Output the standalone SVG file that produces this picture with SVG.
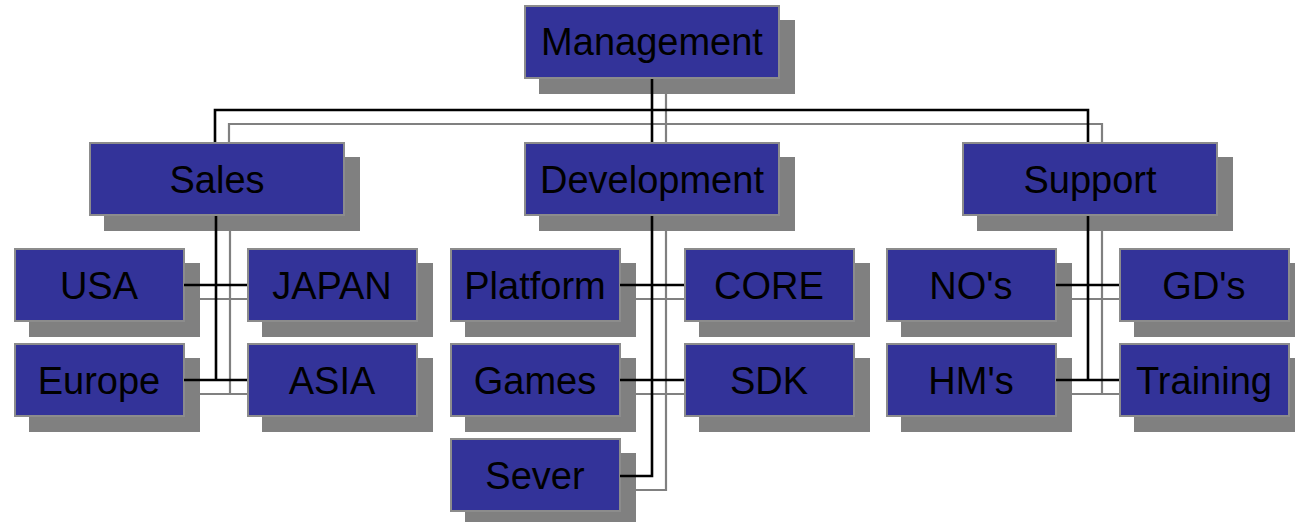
<svg xmlns="http://www.w3.org/2000/svg" width="1295" height="522" viewBox="0 0 1295 522">
  <style>
    .box { fill: #333399; stroke: #8c8c8c; stroke-width: 2; }
    .shadow { fill: #808080; }
    .label { font-family: "Liberation Sans", Arial, sans-serif; font-size: 38px; fill: #000; text-anchor: middle; }
    .link { fill: none; stroke: #000; stroke-width: 2.6; }
    .link-shadow { fill: none; stroke: #808080; stroke-width: 2.2; }
  </style>
  <defs>
    <!-- connector routes, reused for the drop shadow -->
    <g id="routes">
      <path d="M652,79 V142 M215,142 V110 H1088 V142"/>
      <path d="M216,216 V380 M184,285 H247 M184,380 H247"/>
      <path d="M652,216 V476 H620 M620,285 H684 M620,380 H684"/>
      <path d="M1088,216 V380 M1056,285 H1119 M1056,380 H1119"/>
    </g>
  </defs>

  <!-- connector shadows sit beneath every box -->
  <g id="connector-shadows" class="link-shadow">
    <use href="#routes" transform="translate(14,14)"/>
  </g>

  <g id="management">
    <rect class="shadow" x="539" y="20" width="256" height="74"/>
    <rect class="box" x="525" y="6" width="254" height="72"/>
    <text class="label" x="652" y="55">Management</text>
  </g>

  <g id="sales">
    <rect class="shadow" x="104" y="157" width="256" height="74"/>
    <rect class="box" x="90" y="143" width="254" height="72"/>
    <text class="label" x="217" y="192.5">Sales</text>
  </g>
  <g id="development">
    <rect class="shadow" x="539" y="157" width="256" height="74"/>
    <rect class="box" x="525" y="143" width="254" height="72"/>
    <text class="label" x="652" y="192.5">Development</text>
  </g>
  <g id="support">
    <rect class="shadow" x="977" y="157" width="256" height="74"/>
    <rect class="box" x="963" y="143" width="254" height="72"/>
    <text class="label" x="1090" y="192.5">Support</text>
  </g>

  <g id="usa">
    <rect class="shadow" x="29" y="263" width="171" height="74"/>
    <rect class="box" x="15" y="249" width="169" height="72"/>
    <text class="label" x="99" y="298.5">USA</text>
  </g>
  <g id="japan">
    <rect class="shadow" x="262" y="263" width="171" height="74"/>
    <rect class="box" x="248" y="249" width="169" height="72"/>
    <text class="label" x="332" y="298.5">JAPAN</text>
  </g>
  <g id="europe">
    <rect class="shadow" x="29" y="358" width="171" height="74"/>
    <rect class="box" x="15" y="344" width="169" height="72"/>
    <text class="label" x="99" y="393.5">Europe</text>
  </g>
  <g id="asia">
    <rect class="shadow" x="262" y="358" width="171" height="74"/>
    <rect class="box" x="248" y="344" width="169" height="72"/>
    <text class="label" x="332" y="393.5">ASIA</text>
  </g>

  <g id="platform">
    <rect class="shadow" x="465" y="263" width="171" height="74"/>
    <rect class="box" x="451" y="249" width="169" height="72"/>
    <text class="label" x="535" y="298.5">Platform</text>
  </g>
  <g id="core">
    <rect class="shadow" x="699" y="263" width="171" height="74"/>
    <rect class="box" x="685" y="249" width="169" height="72"/>
    <text class="label" x="769" y="298.5">CORE</text>
  </g>
  <g id="games">
    <rect class="shadow" x="465" y="358" width="171" height="74"/>
    <rect class="box" x="451" y="344" width="169" height="72"/>
    <text class="label" x="535" y="393.5">Games</text>
  </g>
  <g id="sdk">
    <rect class="shadow" x="699" y="358" width="171" height="74"/>
    <rect class="box" x="685" y="344" width="169" height="72"/>
    <text class="label" x="769" y="393.5">SDK</text>
  </g>
  <g id="sever">
    <rect class="shadow" x="465" y="453" width="171" height="74"/>
    <rect class="box" x="451" y="439" width="169" height="72"/>
    <text class="label" x="535" y="488.5">Sever</text>
  </g>

  <g id="nos">
    <rect class="shadow" x="901" y="263" width="171" height="74"/>
    <rect class="box" x="887" y="249" width="169" height="72"/>
    <text class="label" x="971" y="298.5">NO's</text>
  </g>
  <g id="gds">
    <rect class="shadow" x="1134" y="263" width="171" height="74"/>
    <rect class="box" x="1120" y="249" width="169" height="72"/>
    <text class="label" x="1204" y="298.5">GD's</text>
  </g>
  <g id="hms">
    <rect class="shadow" x="901" y="358" width="171" height="74"/>
    <rect class="box" x="887" y="344" width="169" height="72"/>
    <text class="label" x="971" y="393.5">HM's</text>
  </g>
  <g id="training">
    <rect class="shadow" x="1134" y="358" width="171" height="74"/>
    <rect class="box" x="1120" y="344" width="169" height="72"/>
    <text class="label" x="1204" y="393.5">Training</text>
  </g>

  <!-- black connectors drawn over the shadows -->
  <g id="connectors" class="link">
    <use href="#routes"/>
  </g>
</svg>
